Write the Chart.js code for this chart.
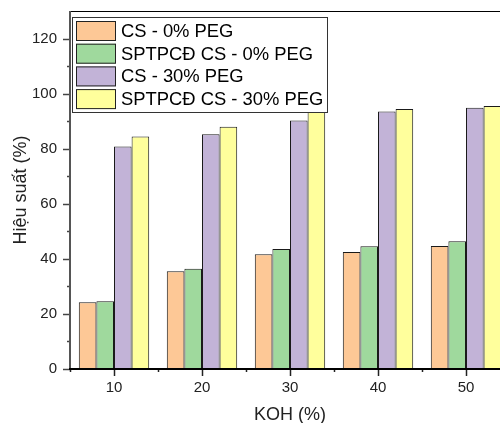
<!DOCTYPE html>
<html>
<head>
<meta charset="utf-8">
<script src="https://cdn.jsdelivr.net/npm/chart.js@4.4.0/dist/chart.umd.min.js"></script>
<style>
  html, body { margin: 0; padding: 0; overflow: hidden; background: #fff; }
  #wrap { position: absolute; left: 0; top: 0; width: 512px; height: 423px; }
</style>
</head>
<body>
<div id="wrap"><canvas id="chart"></canvas></div>
<script>
const categories = ["10", "20", "30", "40", "50"];
const seriesNames = ["CS - 0% PEG", "SPTPCĐ CS - 0% PEG", "CS - 30% PEG", "SPTPCĐ CS - 30% PEG"];
const cs0 = [24.2, 35.5, 41.7, 42.5, 44.7];
const sptpcd0 = [24.6, 36.4, 43.6, 44.6, 46.4];
const cs30 = [80.8, 85.2, 90.2, 93.5, 94.9];
const sptpcd30 = [84.4, 88.0, 93.5, 94.4, 95.5];
const yTicks = [0, 20, 40, 60, 80, 100, 120];

const colors = ["#FDC896", "#9FD99D", "#C2B3D7", "#FFFF9C"];
const font = "Liberation Sans, Arial, sans-serif";

// axis lines, tick marks, top frame line and the legend inside the plot
const decorations = {
  id: "decorations",
  afterDraw(chart) {
    const ctx = chart.ctx;
    const area = chart.chartArea;
    const x = chart.scales.x;
    const y = chart.scales.y;
    ctx.save();

    // top frame
    ctx.strokeStyle = "#000";
    ctx.lineWidth = 1;
    ctx.beginPath();
    ctx.moveTo(area.left, area.top + 0.5);
    ctx.lineTo(area.right, area.top + 0.5);
    ctx.stroke();

    // y ticks
    ctx.strokeStyle = "#444";
    ctx.lineWidth = 1.5;
    for (let v = 0; v <= 120; v += 10) {
      const py = Math.round(y.getPixelForValue(v)) + 0.5;
      const len = v % 20 === 0 ? 7 : 3;
      ctx.beginPath();
      ctx.moveTo(area.left - len, py);
      ctx.lineTo(area.left, py);
      ctx.stroke();
    }
    // x ticks
    ctx.strokeStyle = "#222";
    for (let i = 0; i < categories.length; i++) {
      const px = Math.round(x.getPixelForValue(i)) + 0.5;
      ctx.beginPath();
      ctx.moveTo(px, area.bottom);
      ctx.lineTo(px, area.bottom + 7);
      ctx.stroke();
    }
    for (let i = 0; i <= categories.length; i++) {
      const px = Math.round(x.getPixelForValue(i - 0.5)) + 0.5;
      ctx.beginPath();
      ctx.moveTo(px, area.bottom);
      ctx.lineTo(px, area.bottom + 3);
      ctx.stroke();
    }

    // left axis
    ctx.strokeStyle = "#555";
    ctx.lineWidth = 2;
    ctx.beginPath();
    ctx.moveTo(area.left, area.top);
    ctx.lineTo(area.left, area.bottom + 1);
    ctx.stroke();
    // bottom axis
    ctx.strokeStyle = "#000";
    ctx.lineWidth = 2;
    ctx.beginPath();
    ctx.moveTo(area.left - 1, area.bottom);
    ctx.lineTo(area.right, area.bottom);
    ctx.stroke();

    // legend
    const lx = 72.5, ly = 17.5, lw = 255, lh = 95;
    ctx.fillStyle = "#fff";
    ctx.fillRect(lx, ly, lw, lh);
    ctx.strokeStyle = "#333";
    ctx.lineWidth = 1;
    ctx.strokeRect(lx, ly, lw, lh);
    ctx.font = "18.4px " + font;
    ctx.textBaseline = "middle";
    chart.data.datasets.forEach((ds, i) => {
      const ry = 21 + i * 22.7;
      ctx.fillStyle = ds.backgroundColor;
      ctx.fillRect(76, ry, 40, 20);
      ctx.strokeStyle = "#222";
      ctx.strokeRect(76.5, ry + 0.5, 39, 19);
      ctx.fillStyle = "#000";
      ctx.fillText(ds.label, 121, ry + 11);
    });
    ctx.restore();
  }
};

const datasets = [cs0, sptpcd0, cs30, sptpcd30].map((values, i) => ({
  label: seriesNames[i],
  data: values,
  backgroundColor: colors[i],
  borderColor: "#1a1a1a",
  borderWidth: 1,
  borderSkipped: "bottom",
  barPercentage: 1,
  categoryPercentage: 0.8
}));

new Chart(document.getElementById("chart"), {
  type: "bar",
  data: { labels: categories, datasets: datasets },
  plugins: [decorations],
  options: {
    responsive: true,
    maintainAspectRatio: false,
    animation: false,
    layout: { padding: { top: 11, right: 2, left: 0, bottom: 0 } },
    plugins: { legend: { display: false }, tooltip: { enabled: false } },
    scales: {
      x: {
        grid: { display: false, drawTicks: false },
        border: { display: false },
        ticks: { color: "#222", font: { family: font, size: 15 }, padding: 10 },
        title: {
          display: true,
          text: "KOH (%)",
          color: "#222",
          font: { family: font, size: 18, lineHeight: 0.88 },
          padding: 0
        },
        afterFit(scale) {
          scale.height = 54;
          scale.paddingLeft = 0;
          scale.paddingRight = 0;
        }
      },
      y: {
        min: 0,
        max: 130,
        afterBuildTicks(scale) { scale.ticks = yTicks.map(v => ({ value: v })); },
        grid: { display: false, drawTicks: false },
        border: { display: false },
        ticks: { color: "#222", font: { family: font, size: 15 }, padding: 13 },
        title: {
          display: true,
          text: "Hiệu suất (%)",
          color: "#222",
          font: { family: font, size: 18, lineHeight: 1 },
          padding: { top: 12, bottom: 0 }
        },
        afterFit(scale) {
          scale.width = 70;
          scale.paddingTop = 0;
          scale.paddingBottom = 0;
        }
      }
    }
  }
});
</script>
</body>
</html>
